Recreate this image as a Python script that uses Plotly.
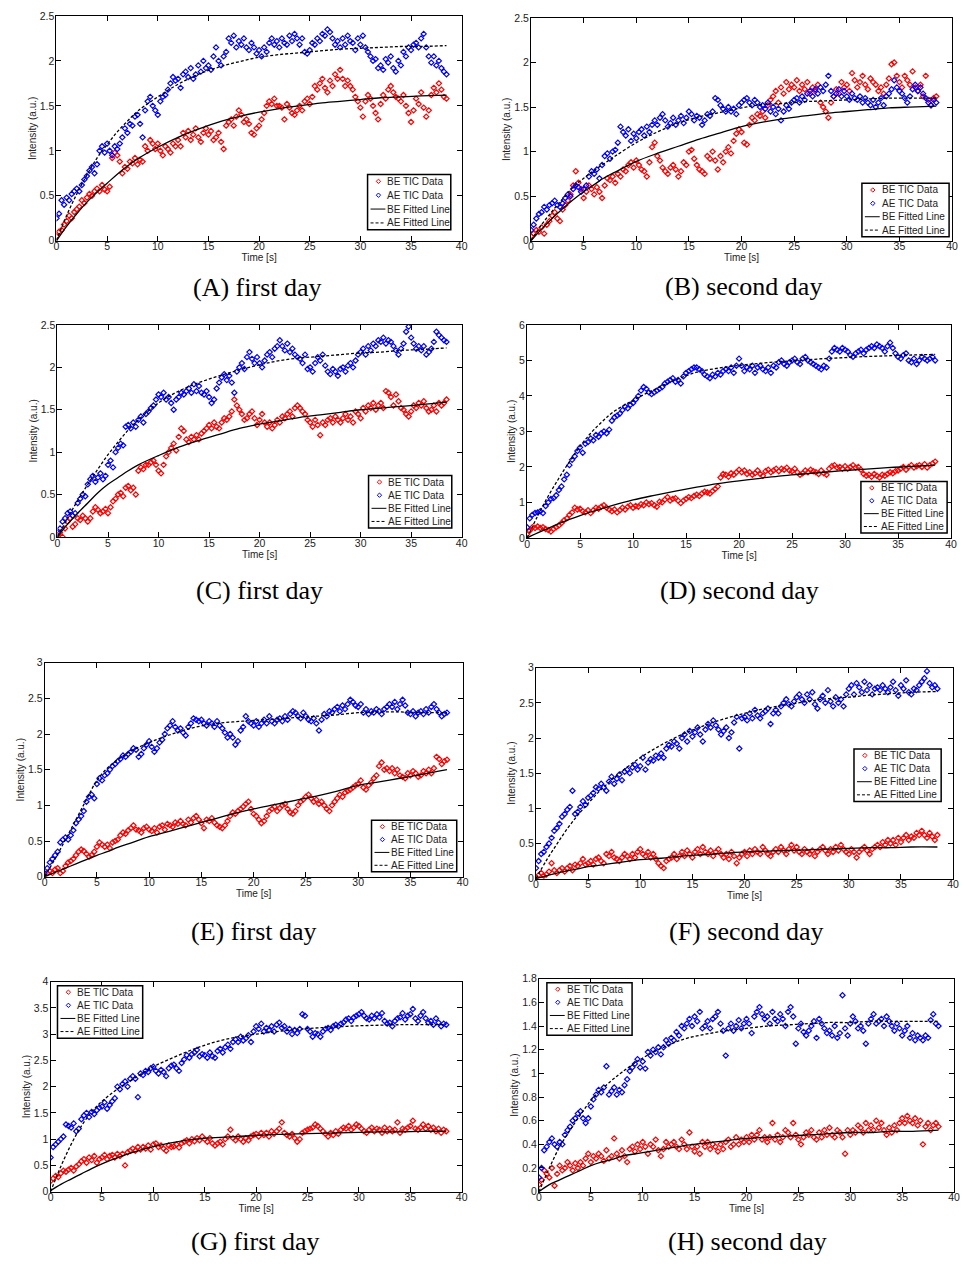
import numpy as np
import plotly.graph_objects as go

W, H = 965, 1267
DT = 0.25  # sampling step of the TIC data [s]
FIT_T = [0, 1, 2, 3, 4, 5, 6, 7, 8, 10, 12, 14, 16, 18, 20, 22, 24, 26, 28, 30, 32, 34, 36, 38.5]
X_TICKS = [0, 5, 10, 15, 20, 25, 30, 35, 40]
LEGEND_LABELS = ["BE TIC Data", "AE TIC Data", "BE Fitted Line", "AE Fitted Line"]

# ---------------- Panel A ----------------
A_BE = [0.05, 0.10, 0.12, 0.18, 0.22, 0.28, 0.25, 0.32, 0.35, 0.38, 0.45, 0.42,
        0.48, 0.52, 0.50, 0.55, 0.58, 0.55, 0.62, 0.57, 0.55, 0.60, 0.92, 0.98,
        0.95, 0.88, 0.75, 0.82, 0.80, 0.88, 0.86, 0.92, 0.85, 0.90, 0.88, 1.05,
        1.00, 1.12, 1.08, 1.02, 1.08, 1.00, 0.95, 1.05, 1.02, 0.98, 1.08, 1.05,
        1.12, 1.05, 1.20, 1.15, 1.22, 1.12, 1.18, 1.25, 1.15, 1.10, 1.20, 1.25,
        1.18, 1.22, 1.12, 1.15, 1.20, 1.10, 1.02, 1.28, 1.32, 1.35, 1.28, 1.38,
        1.45, 1.40, 1.32, 1.35, 1.30, 1.20, 1.18, 1.25, 1.28, 1.35, 1.42, 1.50,
        1.55, 1.52, 1.58, 1.50, 1.50, 1.48, 1.35, 1.52, 1.48, 1.42, 1.40, 1.45,
        1.50, 1.45, 1.55, 1.58, 1.52, 1.60, 1.72, 1.68, 1.75, 1.80, 1.70, 1.65,
        1.78, 1.72, 1.85, 1.80, 1.90, 1.80, 1.72, 1.78, 1.72, 1.68, 1.60, 1.55,
        1.48, 1.38, 1.55, 1.62, 1.58, 1.50, 1.42, 1.35, 1.52, 1.62, 1.58, 1.68,
        1.72, 1.65, 1.60, 1.58, 1.55, 1.62, 1.50, 1.42, 1.32, 1.45, 1.58, 1.52,
        1.65, 1.48, 1.38, 1.45, 1.62, 1.70, 1.65, 1.75, 1.68, 1.60, 1.58]
A_AE = [0.25, 0.30, 0.45, 0.40, 0.48, 0.45, 0.52, 0.55, 0.58, 0.55, 0.62, 0.68,
        0.72, 0.78, 0.82, 0.75, 0.85, 1.00, 1.05, 0.98, 1.08, 1.00, 0.95, 1.05,
        1.02, 1.08, 1.15, 1.25, 1.20, 1.30, 1.28, 1.38, 1.40, 1.30, 1.15, 1.45,
        1.55, 1.60, 1.50, 1.45, 1.40, 1.55, 1.60, 1.62, 1.68, 1.75, 1.82, 1.78,
        1.80, 1.70, 1.85, 1.88, 1.82, 1.92, 1.80, 1.85, 1.95, 1.88, 2.00, 1.92,
        1.95, 1.90, 2.05, 2.15, 2.00, 1.95, 2.05, 2.10, 2.25, 2.20, 2.28, 2.15,
        2.22, 2.18, 2.25, 2.15, 2.12, 2.20, 2.15, 2.08, 2.12, 2.05, 2.15, 2.10,
        2.20, 2.25, 2.18, 2.22, 2.15, 2.25, 2.20, 2.18, 2.28, 2.22, 2.30, 2.25,
        2.18, 2.25, 2.10, 2.08, 2.12, 2.20, 2.18, 2.25, 2.22, 2.30, 2.28, 2.35,
        2.32, 2.25, 2.18, 2.22, 2.15, 2.25, 2.18, 2.28, 2.22, 2.20, 2.12, 2.25,
        2.18, 2.28, 2.15, 2.10, 2.05, 2.00, 2.02, 1.92, 1.95, 1.90, 2.02, 1.98,
        2.05, 1.92, 1.88, 2.00, 1.95, 2.10, 2.05, 2.15, 2.12, 2.18, 2.20, 2.15,
        2.25, 2.30, 2.15, 2.05, 1.98, 2.05, 1.95, 2.00, 1.92, 1.88, 1.85]
A_BE_FIT = [0, 0.16, 0.30, 0.43, 0.54, 0.64, 0.74, 0.83, 0.91, 1.04, 1.15, 1.24,
            1.32, 1.38, 1.43, 1.47, 1.50, 1.53, 1.55, 1.57, 1.59, 1.60, 1.61, 1.62]
A_AE_FIT = [0, 0.28, 0.52, 0.73, 0.92, 1.07, 1.21, 1.33, 1.44, 1.60, 1.74, 1.85,
            1.93, 1.99, 2.04, 2.07, 2.09, 2.11, 2.13, 2.14, 2.15, 2.16, 2.16, 2.17]

# ---------------- Panel B ----------------
B_BE = [0.05, 0.08, 0.12, 0.10, 0.15, 0.08, 0.18, 0.22, 0.28, 0.32, 0.25, 0.22,
        0.35, 0.40, 0.45, 0.52, 0.62, 0.78, 0.65, 0.58, 0.48, 0.55, 0.62, 0.58,
        0.52, 0.60, 0.55, 0.48, 0.62, 0.70, 0.68, 0.72, 0.65, 0.75, 0.72, 0.80,
        0.78, 0.85, 0.88, 0.82, 0.90, 0.85, 0.80, 0.78, 0.72, 0.88, 1.05, 1.10,
        0.95, 0.90, 0.82, 0.78, 0.75, 0.82, 0.85, 0.80, 0.72, 0.78, 0.88, 0.85,
        1.00, 1.02, 0.92, 0.85, 0.80, 0.78, 0.75, 0.95, 0.92, 1.00, 0.90, 0.80,
        0.95, 0.88, 1.00, 1.05, 0.98, 1.12, 1.20, 1.25, 1.22, 1.10, 1.08, 1.30,
        1.38, 1.35, 1.42, 1.40, 1.45, 1.38, 1.52, 1.58, 1.62, 1.68, 1.55, 1.72,
        1.65, 1.78, 1.70, 1.75, 1.72, 1.80, 1.68, 1.75, 1.70, 1.78, 1.65, 1.72,
        1.68, 1.75, 1.55, 1.50, 1.45, 1.38, 1.55, 1.62, 1.70, 1.65, 1.78, 1.72,
        1.75, 1.68, 1.88, 1.80, 1.72, 1.78, 1.85, 1.75, 1.70, 1.82, 1.78, 1.75,
        1.68, 1.72, 1.65, 1.75, 1.82, 1.98, 2.00, 1.85, 1.78, 1.72, 1.85, 1.80,
        1.75, 1.90, 1.72, 1.68, 1.75, 1.62, 1.85, 1.58, 1.52, 1.60, 1.62]
B_AE = [0.12, 0.18, 0.25, 0.30, 0.32, 0.38, 0.35, 0.40, 0.42, 0.45, 0.40, 0.38,
        0.42, 0.48, 0.52, 0.50, 0.58, 0.62, 0.60, 0.55, 0.58, 0.62, 0.72, 0.78,
        0.75, 0.80, 0.70, 0.85, 0.95, 0.98, 0.92, 1.00, 1.02, 1.10, 1.28, 1.22,
        1.18, 1.25, 1.12, 1.20, 1.15, 1.22, 1.25, 1.18, 1.28, 1.22, 1.30, 1.35,
        1.30, 1.38, 1.42, 1.35, 1.28, 1.32, 1.38, 1.30, 1.35, 1.40, 1.32, 1.38,
        1.45, 1.42, 1.35, 1.40, 1.38, 1.30, 1.35, 1.42, 1.40, 1.45, 1.60, 1.58,
        1.52, 1.48, 1.45, 1.50, 1.45, 1.48, 1.42, 1.52, 1.55, 1.58, 1.60, 1.55,
        1.52, 1.58, 1.55, 1.50, 1.52, 1.48, 1.55, 1.45, 1.50, 1.42, 1.48, 1.35,
        1.45, 1.52, 1.48, 1.55, 1.58, 1.60, 1.55, 1.62, 1.58, 1.65, 1.68, 1.62,
        1.70, 1.65, 1.72, 1.68, 1.75, 1.85, 1.68, 1.62, 1.65, 1.70, 1.62, 1.68,
        1.62, 1.58, 1.65, 1.60, 1.58, 1.62, 1.55, 1.60, 1.55, 1.52, 1.58, 1.50,
        1.55, 1.60, 1.52, 1.62, 1.65, 1.70, 1.80, 1.72, 1.68, 1.65, 1.60, 1.55,
        1.62, 1.70, 1.75, 1.68, 1.72, 1.65, 1.60, 1.55, 1.52, 1.58, 1.55]
B_BE_FIT = [0, 0.13, 0.25, 0.36, 0.46, 0.55, 0.63, 0.71, 0.77, 0.89, 0.98, 1.06,
            1.14, 1.21, 1.28, 1.33, 1.37, 1.40, 1.43, 1.45, 1.47, 1.49, 1.50, 1.51]
B_AE_FIT = [0, 0.18, 0.33, 0.47, 0.60, 0.70, 0.79, 0.87, 0.95, 1.10, 1.22, 1.32,
            1.39, 1.44, 1.49, 1.53, 1.54, 1.56, 1.57, 1.58, 1.59, 1.60, 1.60, 1.60]

# ---------------- Panel C ----------------
C_BE = [0.02, 0.05, 0.00, 0.10, 0.18, 0.22, 0.12, 0.15, 0.22, 0.20, 0.25, 0.22,
        0.18, 0.22, 0.30, 0.35, 0.32, 0.28, 0.30, 0.33, 0.28, 0.35, 0.42, 0.45,
        0.50, 0.52, 0.48, 0.58, 0.60, 0.55, 0.58, 0.50, 0.78, 0.82, 0.80, 0.85,
        0.85, 0.88, 0.90, 0.85, 0.78, 0.75, 0.85, 0.95, 1.00, 1.05, 1.10, 1.02,
        1.18, 1.28, 1.25, 1.15, 1.12, 1.18, 1.15, 1.20, 1.15, 1.22, 1.25, 1.28,
        1.32, 1.28, 1.35, 1.30, 1.28, 1.35, 1.40, 1.38, 1.42, 1.48, 1.62, 1.55,
        1.50, 1.45, 1.38, 1.40, 1.45, 1.48, 1.40, 1.32, 1.38, 1.45, 1.35, 1.30,
        1.35, 1.28, 1.32, 1.38, 1.35, 1.42, 1.40, 1.45, 1.48, 1.42, 1.52, 1.55,
        1.52, 1.48, 1.45, 1.38, 1.35, 1.30, 1.38, 1.32, 1.20, 1.35, 1.32, 1.38,
        1.40, 1.35, 1.42, 1.38, 1.35, 1.40, 1.45, 1.38, 1.42, 1.35, 1.48, 1.45,
        1.40, 1.52, 1.48, 1.55, 1.52, 1.58, 1.50, 1.55, 1.58, 1.52, 1.72, 1.70,
        1.65, 1.55, 1.68, 1.60, 1.52, 1.50, 1.45, 1.42, 1.48, 1.55, 1.52, 1.58,
        1.55, 1.60, 1.52, 1.48, 1.50, 1.55, 1.48, 1.58, 1.55, 1.58, 1.62]
C_AE = [0.05, 0.10, 0.18, 0.22, 0.28, 0.30, 0.25, 0.28, 0.40, 0.45, 0.50, 0.48,
        0.62, 0.68, 0.72, 0.65, 0.70, 0.75, 0.68, 0.72, 0.85, 0.90, 0.82, 1.00,
        1.05, 1.10, 1.08, 1.30, 1.32, 1.28, 1.35, 1.30, 1.38, 1.42, 1.35, 1.45,
        1.48, 1.52, 1.55, 1.62, 1.68, 1.65, 1.70, 1.62, 1.65, 1.58, 1.50, 1.62,
        1.65, 1.70, 1.68, 1.72, 1.75, 1.70, 1.80, 1.72, 1.78, 1.70, 1.68, 1.72,
        1.65, 1.58, 1.62, 1.75, 1.82, 1.88, 1.92, 1.85, 1.90, 1.82, 1.70, 1.95,
        2.00, 2.05, 1.98, 2.12, 2.18, 2.10, 2.05, 2.12, 2.05, 2.00, 2.08, 2.15,
        2.18, 2.12, 2.22, 2.25, 2.32, 2.25, 2.20, 2.28, 2.18, 2.22, 2.15, 2.12,
        2.10, 2.05, 2.15, 1.98, 2.00, 1.95, 2.05, 2.12, 2.08, 2.15, 2.02, 1.95,
        1.92, 1.98, 1.95, 1.90, 1.98, 2.00, 1.95, 2.02, 2.05, 2.00, 2.08, 2.15,
        2.18, 2.22, 2.15, 2.25, 2.20, 2.28, 2.25, 2.32, 2.30, 2.35, 2.28, 2.32,
        2.30, 2.25, 2.20, 2.15, 2.22, 2.28, 2.42, 2.48, 2.35, 2.28, 2.22, 2.25,
        2.20, 2.25, 2.15, 2.18, 2.22, 2.30, 2.42, 2.38, 2.35, 2.32, 2.30]
C_BE_FIT = [0, 0.15, 0.28, 0.40, 0.52, 0.62, 0.70, 0.78, 0.85, 0.96, 1.06, 1.14,
            1.21, 1.28, 1.33, 1.37, 1.41, 1.44, 1.47, 1.50, 1.52, 1.54, 1.56, 1.59]
C_AE_FIT = [0, 0.22, 0.43, 0.62, 0.80, 0.97, 1.12, 1.26, 1.38, 1.58, 1.72, 1.82,
            1.90, 1.97, 2.03, 2.08, 2.11, 2.13, 2.15, 2.17, 2.18, 2.20, 2.21, 2.23]

# ---------------- Panel D ----------------
D_BE = [0.10, 0.20, 0.30, 0.28, 0.32, 0.28, 0.30, 0.25, 0.22, 0.18, 0.25, 0.30,
        0.35, 0.42, 0.50, 0.55, 0.65, 0.72, 0.85, 0.80, 0.82, 0.75, 0.72, 0.78,
        0.70, 0.78, 0.85, 0.82, 0.88, 0.92, 0.85, 0.80, 0.75, 0.80, 0.72, 0.78,
        0.85, 0.80, 0.88, 0.92, 0.85, 0.90, 0.88, 0.95, 0.92, 1.00, 0.95, 0.98,
        0.92, 0.88, 1.02, 1.00, 1.08, 1.15, 1.05, 1.10, 1.12, 1.05, 0.98, 1.05,
        1.10, 1.15, 1.12, 1.18, 1.22, 1.18, 1.25, 1.30, 1.28, 1.25, 1.32, 1.38,
        1.45, 1.70, 1.80, 1.78, 1.72, 1.82, 1.78, 1.85, 1.92, 1.85, 1.90, 1.80,
        1.85, 1.78, 1.82, 1.90, 1.80, 1.75, 1.88, 1.92, 1.85, 1.90, 1.95, 1.88,
        1.95, 1.92, 1.98, 1.90, 1.88, 1.95, 1.85, 1.78, 1.82, 1.90, 1.85, 1.92,
        1.88, 1.85, 1.80, 1.90, 1.82, 1.78, 1.95, 2.02, 2.05, 1.98, 2.00, 1.95,
        2.02, 1.95, 2.00, 2.05, 1.98, 2.00, 1.92, 1.80, 1.75, 1.78, 1.72, 1.80,
        1.75, 1.70, 1.78, 1.75, 1.80, 1.85, 1.82, 1.88, 1.90, 1.95, 2.00, 1.92,
        2.00, 2.05, 1.98, 2.02, 2.05, 2.00, 2.08, 1.98, 2.05, 2.10, 2.15]
D_AE = [0.30, 0.55, 0.65, 0.70, 0.72, 0.75, 0.70, 0.90, 1.00, 1.10, 1.12, 1.20,
        1.35, 1.45, 1.65, 1.78, 2.05, 2.20, 2.30, 2.45, 2.55, 2.40, 2.65, 2.70,
        2.80, 2.75, 2.90, 2.85, 2.95, 3.00, 2.95, 3.05, 3.30, 3.40, 3.45, 3.50,
        3.60, 3.70, 3.65, 3.75, 3.80, 3.90, 4.00, 4.15, 4.25, 4.20, 4.10, 4.05,
        4.10, 4.15, 4.20, 4.25, 4.35, 4.40, 4.45, 4.50, 4.40, 4.45, 4.35, 4.55,
        4.65, 4.70, 4.75, 4.80, 4.80, 4.75, 4.70, 4.60, 4.55, 4.50, 4.60, 4.55,
        4.65, 4.60, 4.70, 4.75, 4.70, 4.80, 4.65, 4.85, 5.05, 4.85, 4.70, 4.80,
        4.75, 4.85, 4.65, 4.80, 4.85, 4.75, 4.70, 4.80, 4.65, 4.85, 4.80, 4.95,
        5.00, 4.90, 4.85, 4.95, 5.00, 5.05, 4.95, 4.90, 5.05, 5.10, 5.00, 4.95,
        4.90, 4.85, 4.80, 4.75, 4.85, 4.80, 5.05, 5.25, 5.35, 5.30, 5.25, 5.35,
        5.30, 5.25, 5.15, 5.10, 5.20, 5.25, 5.30, 5.20, 5.30, 5.35, 5.40, 5.35,
        5.45, 5.40, 5.35, 5.25, 5.40, 5.50, 5.35, 5.20, 5.10, 5.05, 5.15, 5.20,
        5.00, 4.95, 5.05, 4.90, 5.00, 5.10, 5.05, 5.00, 5.05, 5.10, 5.00]
D_BE_FIT = [0, 0.14, 0.27, 0.40, 0.52, 0.63, 0.73, 0.82, 0.91, 1.07, 1.20, 1.32,
            1.43, 1.53, 1.61, 1.68, 1.75, 1.80, 1.85, 1.90, 1.94, 1.98, 2.01, 2.05]
D_AE_FIT = [0, 0.62, 1.18, 1.68, 2.15, 2.58, 2.95, 3.25, 3.52, 3.88, 4.18, 4.45,
            4.67, 4.78, 4.86, 4.92, 4.97, 5.01, 5.05, 5.08, 5.11, 5.13, 5.15, 5.17]

# ---------------- Panel E ----------------
E_BE = [0.02, 0.05, 0.08, 0.05, 0.10, 0.12, 0.05, 0.08, 0.15, 0.20, 0.22, 0.25,
        0.30, 0.35, 0.38, 0.36, 0.32, 0.28, 0.30, 0.35, 0.42, 0.48, 0.45, 0.42,
        0.45, 0.40, 0.48, 0.50, 0.52, 0.58, 0.62, 0.60, 0.65, 0.68, 0.72, 0.66,
        0.65, 0.62, 0.68, 0.70, 0.66, 0.64, 0.68, 0.62, 0.70, 0.72, 0.66, 0.74,
        0.72, 0.70, 0.76, 0.74, 0.78, 0.74, 0.72, 0.80, 0.76, 0.82, 0.85, 0.80,
        0.75, 0.68, 0.80, 0.78, 0.82, 0.76, 0.72, 0.70, 0.68, 0.72, 0.78, 0.85,
        0.90, 0.88, 0.92, 0.95, 0.98, 1.02, 1.05, 0.95, 0.88, 0.85, 0.80, 0.75,
        0.78, 0.85, 0.92, 0.95, 0.98, 0.92, 0.96, 1.00, 1.02, 0.95, 0.90, 0.88,
        0.92, 1.00, 1.05, 1.08, 1.12, 1.15, 1.10, 1.05, 1.08, 1.02, 1.05, 1.00,
        0.95, 0.92, 1.00, 1.05, 1.10, 1.15, 1.12, 1.18, 1.20, 1.22, 1.25, 1.28,
        1.30, 1.35, 1.25, 1.22, 1.28, 1.32, 1.38, 1.42, 1.55, 1.60, 1.50, 1.52,
        1.48, 1.52, 1.45, 1.50, 1.42, 1.40, 1.38, 1.45, 1.42, 1.48, 1.45, 1.40,
        1.42, 1.48, 1.45, 1.50, 1.45, 1.52, 1.68, 1.65, 1.58, 1.62, 1.64]
E_AE = [0.05, 0.12, 0.20, 0.25, 0.30, 0.35, 0.48, 0.52, 0.55, 0.52, 0.58, 0.65,
        0.75, 0.80, 0.85, 0.92, 1.05, 1.12, 1.15, 1.10, 1.30, 1.38, 1.35, 1.42,
        1.45, 1.50, 1.55, 1.58, 1.62, 1.65, 1.70, 1.68, 1.72, 1.75, 1.80, 1.78,
        1.68, 1.72, 1.80, 1.85, 1.90, 1.82, 1.75, 1.80, 1.88, 1.92, 2.00, 2.08,
        2.12, 2.18, 2.10, 2.05, 2.08, 2.02, 1.98, 2.10, 2.15, 2.22, 2.20, 2.18,
        2.20, 2.15, 2.12, 2.18, 2.15, 2.10, 2.18, 2.12, 2.08, 2.02, 1.95, 2.00,
        1.95, 1.85, 1.90, 2.05, 2.10, 2.25, 2.18, 2.15, 2.12, 2.18, 2.10, 2.15,
        2.20, 2.15, 2.25, 2.18, 2.15, 2.20, 2.22, 2.18, 2.25, 2.20, 2.28, 2.32,
        2.30, 2.25, 2.22, 2.30, 2.25, 2.20, 2.18, 2.22, 2.15, 2.05, 2.20, 2.28,
        2.25, 2.32, 2.30, 2.35, 2.38, 2.32, 2.40, 2.35, 2.42, 2.48, 2.45, 2.40,
        2.38, 2.42, 2.30, 2.35, 2.28, 2.32, 2.30, 2.35, 2.32, 2.28, 2.35, 2.38,
        2.42, 2.38, 2.45, 2.35, 2.42, 2.48, 2.40, 2.30, 2.28, 2.32, 2.25, 2.30,
        2.32, 2.28, 2.35, 2.30, 2.38, 2.42, 2.35, 2.30, 2.25, 2.28, 2.30]
E_BE_FIT = [0, 0.06, 0.12, 0.18, 0.24, 0.30, 0.35, 0.41, 0.46, 0.56, 0.64, 0.72,
            0.80, 0.88, 0.95, 1.01, 1.07, 1.13, 1.20, 1.28, 1.33, 1.38, 1.43, 1.50]
E_AE_FIT = [0, 0.25, 0.52, 0.80, 1.08, 1.35, 1.52, 1.64, 1.74, 1.88, 1.99, 2.08,
            2.14, 2.17, 2.19, 2.21, 2.23, 2.25, 2.27, 2.30, 2.31, 2.31, 2.30, 2.30]

# ---------------- Panel F ----------------
F_BE = [0.02, 0.05, 0.08, 0.04, 0.06, 0.10, 0.22, 0.12, 0.08, 0.12, 0.15, 0.10,
        0.15, 0.18, 0.12, 0.20, 0.18, 0.22, 0.28, 0.20, 0.22, 0.25, 0.20, 0.28,
        0.30, 0.25, 0.22, 0.35, 0.32, 0.38, 0.30, 0.28, 0.25, 0.30, 0.35, 0.32,
        0.28, 0.35, 0.30, 0.38, 0.42, 0.35, 0.32, 0.38, 0.30, 0.35, 0.28, 0.22,
        0.18, 0.15, 0.25, 0.28, 0.30, 0.35, 0.28, 0.32, 0.38, 0.32, 0.40, 0.35,
        0.30, 0.38, 0.42, 0.35, 0.45, 0.38, 0.35, 0.40, 0.32, 0.38, 0.42, 0.35,
        0.30, 0.35, 0.28, 0.38, 0.32, 0.22, 0.30, 0.35, 0.38, 0.32, 0.40, 0.35,
        0.42, 0.38, 0.35, 0.45, 0.40, 0.35, 0.32, 0.38, 0.42, 0.38, 0.45, 0.40,
        0.35, 0.42, 0.48, 0.40, 0.45, 0.38, 0.35, 0.42, 0.38, 0.35, 0.40, 0.32,
        0.38, 0.42, 0.45, 0.40, 0.35, 0.42, 0.38, 0.45, 0.40, 0.48, 0.42, 0.38,
        0.35, 0.42, 0.38, 0.30, 0.38, 0.42, 0.45, 0.40, 0.35, 0.42, 0.45, 0.48,
        0.45, 0.52, 0.48, 0.55, 0.50, 0.55, 0.48, 0.58, 0.52, 0.58, 0.62, 0.55,
        0.60, 0.58, 0.65, 0.62, 0.68, 0.62, 0.58, 0.65, 0.60, 0.55, 0.62]
F_AE = [0.15, 0.25, 0.35, 0.38, 0.45, 0.50, 0.58, 0.68, 0.72, 0.78, 0.88, 0.92,
        0.98, 1.02, 1.25, 0.92, 0.95, 1.02, 1.10, 1.05, 1.15, 1.18, 1.22, 1.30,
        1.28, 1.35, 1.30, 1.25, 1.38, 1.45, 1.35, 1.42, 1.48, 1.40, 1.52, 1.55,
        1.50, 1.58, 1.62, 1.55, 1.60, 1.72, 1.55, 1.65, 1.70, 1.68, 1.75, 1.72,
        1.78, 1.72, 1.85, 1.90, 1.88, 1.95, 1.92, 1.85, 2.00, 2.05, 1.95, 2.10,
        2.02, 2.08, 2.15, 2.05, 1.95, 2.12, 2.20, 2.15, 2.25, 2.18, 2.12, 2.05,
        2.10, 2.15, 2.00, 2.08, 2.22, 2.30, 1.85, 2.28, 2.30, 2.25, 2.35, 2.28,
        2.40, 2.32, 2.28, 2.35, 2.38, 2.42, 2.20, 2.35, 2.40, 2.35, 2.45, 2.50,
        2.55, 2.48, 2.45, 2.52, 2.58, 2.62, 2.55, 2.50, 2.62, 2.55, 2.65, 2.48,
        2.42, 2.55, 2.60, 2.50, 2.68, 2.52, 2.45, 2.58, 2.50, 2.55, 2.45, 2.62,
        2.70, 2.75, 2.62, 2.78, 2.72, 2.65, 2.80, 2.68, 2.75, 2.62, 2.70, 2.72,
        2.68, 2.75, 2.70, 2.65, 2.72, 2.80, 2.68, 2.60, 2.75, 2.70, 2.82, 2.65,
        2.62, 2.70, 2.68, 2.75, 2.80, 2.85, 2.95, 2.78, 2.72, 2.75, 2.70]
F_BE_FIT = [0, 0.04, 0.08, 0.11, 0.14, 0.17, 0.19, 0.21, 0.23, 0.27, 0.29, 0.32,
            0.34, 0.36, 0.38, 0.39, 0.40, 0.41, 0.42, 0.43, 0.44, 0.44, 0.45, 0.45]
F_AE_FIT = [0, 0.26, 0.49, 0.71, 0.90, 1.07, 1.23, 1.37, 1.50, 1.72, 1.90, 2.05,
            2.17, 2.27, 2.35, 2.42, 2.47, 2.52, 2.56, 2.58, 2.61, 2.63, 2.65, 2.66]

# ---------------- Panel G ----------------
G_BE = [0.20, 0.25, 0.30, 0.28, 0.35, 0.40, 0.38, 0.42, 0.45, 0.40, 0.48, 0.52,
        0.58, 0.62, 0.55, 0.65, 0.60, 0.68, 0.55, 0.62, 0.65, 0.70, 0.62, 0.68,
        0.70, 0.65, 0.72, 0.68, 0.72, 0.50, 0.75, 0.78, 0.82, 0.78, 0.85, 0.80,
        0.85, 0.82, 0.88, 0.80, 0.90, 0.92, 0.85, 0.88, 0.82, 0.78, 0.88, 0.85,
        0.86, 0.90, 0.84, 0.92, 0.95, 0.98, 0.92, 1.00, 0.96, 1.02, 0.98, 1.05,
        1.00, 0.95, 1.02, 0.92, 0.88, 0.92, 0.95, 0.90, 1.00, 1.05, 1.18, 1.02,
        0.98, 1.05, 1.00, 0.95, 1.02, 0.98, 1.05, 1.08, 1.10, 1.05, 1.12, 1.08,
        1.12, 1.05, 1.15, 1.10, 1.15, 1.20, 1.32, 1.12, 1.08, 1.05, 1.10, 1.02,
        0.95, 1.00, 1.12, 1.15, 1.18, 1.20, 1.22, 1.28, 1.25, 1.20, 1.15, 1.10,
        1.05, 1.12, 1.08, 1.15, 1.10, 1.18, 1.22, 1.20, 1.25, 1.18, 1.22, 1.28,
        1.25, 1.20, 1.15, 1.12, 1.18, 1.22, 1.15, 1.20, 1.18, 1.12, 1.22, 1.15,
        1.20, 1.15, 1.18, 1.32, 1.12, 1.20, 1.18, 1.22, 1.25, 1.35, 1.20, 1.18,
        1.22, 1.28, 1.20, 1.25, 1.18, 1.22, 1.15, 1.20, 1.12, 1.18, 1.15]
G_AE = [0.65, 0.85, 0.90, 0.95, 1.00, 1.05, 1.28, 1.25, 1.22, 1.30, 1.15, 1.20,
        1.38, 1.45, 1.50, 1.42, 1.52, 1.48, 1.55, 1.60, 1.62, 1.70, 1.58, 1.65,
        1.72, 1.78, 2.00, 1.95, 2.05, 2.10, 2.00, 2.15, 2.20, 2.15, 1.80, 2.25,
        2.22, 2.30, 2.28, 2.35, 2.38, 2.30, 2.25, 2.32, 2.28, 2.20, 2.35, 2.40,
        2.42, 2.35, 2.30, 2.45, 2.52, 2.60, 2.55, 2.62, 2.65, 2.70, 2.58, 2.62,
        2.60, 2.55, 2.65, 2.58, 2.55, 2.68, 2.72, 2.65, 2.75, 2.80, 2.72, 2.85,
        2.90, 2.85, 2.95, 2.88, 2.92, 2.98, 2.85, 3.05, 3.15, 3.10, 3.20, 3.05,
        3.12, 3.08, 3.15, 3.05, 3.18, 3.22, 3.12, 3.15, 3.05, 3.10, 3.00, 3.08,
        3.02, 3.10, 3.38, 3.35, 3.10, 3.05, 2.95, 3.02, 3.00, 2.95, 3.05, 3.10,
        3.12, 3.08, 3.15, 3.18, 3.15, 3.20, 3.22, 3.28, 3.30, 3.25, 3.32, 3.35,
        3.38, 3.42, 3.35, 3.30, 3.28, 3.35, 3.30, 3.38, 3.32, 3.40, 3.25, 3.20,
        3.22, 3.15, 3.25, 3.30, 3.32, 3.40, 3.28, 3.35, 3.38, 3.48, 3.30, 3.25,
        3.35, 3.42, 3.30, 3.22, 3.25, 3.18, 3.30, 3.22, 3.15, 3.20, 3.18]
G_BE_FIT = [0.02, 0.14, 0.24, 0.34, 0.44, 0.53, 0.61, 0.68, 0.75, 0.86, 0.94, 1.00,
            1.03, 1.05, 1.07, 1.09, 1.10, 1.11, 1.12, 1.13, 1.14, 1.14, 1.15, 1.15]
G_AE_FIT = [0, 0.48, 0.90, 1.25, 1.52, 1.72, 1.88, 2.02, 2.14, 2.38, 2.56, 2.72,
            2.85, 2.94, 3.00, 3.05, 3.09, 3.12, 3.14, 3.16, 3.17, 3.18, 3.18, 3.18]

# ---------------- Panel H ----------------
H_BE = [0.06, 0.10, 0.18, 0.15, 0.12, 0.20, 0.05, 0.15, 0.22, 0.18, 0.20, 0.25,
        0.22, 0.18, 0.24, 0.20, 0.25, 0.22, 0.28, 0.32, 0.25, 0.30, 0.28, 0.32,
        0.30, 0.26, 0.35, 0.28, 0.30, 0.45, 0.32, 0.28, 0.35, 0.30, 0.25, 0.36,
        0.38, 0.34, 0.40, 0.36, 0.42, 0.38, 0.32, 0.40, 0.38, 0.44, 0.35, 0.30,
        0.36, 0.42, 0.38, 0.40, 0.42, 0.38, 0.36, 0.44, 0.40, 0.36, 0.50, 0.38,
        0.34, 0.38, 0.32, 0.42, 0.38, 0.42, 0.36, 0.40, 0.38, 0.34, 0.40, 0.36,
        0.42, 0.44, 0.38, 0.40, 0.46, 0.40, 0.44, 0.42, 0.46, 0.42, 0.48, 0.44,
        0.48, 0.52, 0.44, 0.46, 0.42, 0.46, 0.58, 0.44, 0.48, 0.42, 0.46, 0.52,
        0.50, 0.46, 0.58, 0.48, 0.44, 0.40, 0.46, 0.50, 0.48, 0.52, 0.46, 0.44,
        0.50, 0.46, 0.52, 0.48, 0.54, 0.48, 0.46, 0.52, 0.50, 0.46, 0.32, 0.52,
        0.48, 0.52, 0.50, 0.56, 0.54, 0.50, 0.58, 0.52, 0.56, 0.52, 0.60, 0.54,
        0.58, 0.52, 0.48, 0.54, 0.50, 0.56, 0.52, 0.58, 0.62, 0.58, 0.64, 0.60,
        0.58, 0.62, 0.56, 0.60, 0.40, 0.55, 0.58, 0.52, 0.56, 0.58, 0.55]
H_AE = [0.12, 0.20, 0.35, 0.38, 0.42, 0.45, 0.40, 0.38, 0.42, 0.40, 0.48, 0.52,
        0.55, 0.60, 0.62, 0.66, 0.68, 0.62, 0.58, 0.62, 0.72, 0.78, 0.82, 0.86,
        0.84, 0.88, 1.06, 0.82, 0.85, 0.88, 0.82, 0.86, 0.84, 0.90, 0.95, 1.02,
        1.05, 1.08, 1.12, 1.05, 1.10, 1.04, 1.18, 1.15, 1.20, 1.18, 1.22, 1.16,
        1.22, 1.28, 1.25, 1.30, 1.28, 1.35, 1.32, 1.40, 1.38, 1.42, 1.46, 1.40,
        1.48, 1.44, 1.52, 1.38, 1.40, 1.44, 1.38, 1.46, 1.48, 1.52, 1.42, 1.36,
        1.15, 1.38, 1.42, 1.36, 1.40, 1.45, 1.38, 1.42, 1.46, 1.42, 1.34, 1.48,
        1.52, 1.56, 1.50, 1.46, 1.48, 1.42, 1.52, 1.46, 1.44, 1.50, 1.46, 1.40,
        1.52, 1.56, 1.48, 1.25, 1.38, 1.42, 1.35, 1.32, 1.36, 1.40, 1.44, 1.30,
        1.46, 1.42, 1.38, 1.34, 1.36, 1.32, 1.40, 1.30, 1.34, 1.66, 1.38, 1.32,
        1.42, 1.48, 1.44, 1.38, 1.40, 1.36, 1.25, 1.42, 1.46, 1.50, 1.42, 1.44,
        1.46, 1.40, 1.48, 1.44, 1.40, 1.36, 1.42, 1.38, 1.32, 1.36, 1.40, 1.30,
        1.34, 1.28, 1.32, 1.30, 1.28, 1.32, 1.30, 1.45, 1.50, 1.42, 1.40]
H_BE_FIT = [0, 0.06, 0.10, 0.14, 0.18, 0.22, 0.25, 0.27, 0.30, 0.33, 0.36, 0.39,
            0.41, 0.43, 0.45, 0.46, 0.47, 0.48, 0.49, 0.50, 0.50, 0.51, 0.51, 0.52]
H_AE_FIT = [0, 0.20, 0.38, 0.52, 0.65, 0.77, 0.86, 0.94, 1.01, 1.13, 1.22, 1.29,
            1.33, 1.36, 1.38, 1.40, 1.41, 1.42, 1.43, 1.43, 1.44, 1.44, 1.44, 1.44]

# ---------------- layout description (pixel boxes) ----------------
PANELS = [
    dict(caption="(A) first day", be=A_BE, ae=A_AE, bef=A_BE_FIT, aef=A_AE_FIT,
         ymax=2.5, dtick=0.5, box=(54, 10, 463, 237), leg=(368, 170, 452, 226), cap=(257, 284)),
    dict(caption="(B) second day", be=B_BE, ae=B_AE, bef=B_BE_FIT, aef=B_AE_FIT,
         ymax=2.5, dtick=0.5, box=(533, 12, 958, 237), leg=(867, 179, 955, 233), cap=(747, 283)),
    dict(caption="(C) first day", be=C_BE, ae=C_AE, bef=C_BE_FIT, aef=C_AE_FIT,
         ymax=2.5, dtick=0.5, box=(55, 322, 463, 536), leg=(369, 474, 453, 527), cap=(259, 590)),
    dict(caption="(D) second day", be=D_BE, ae=D_AE, bef=D_BE_FIT, aef=D_AE_FIT,
         ymax=6, dtick=1, box=(529, 322, 957, 537), leg=(866, 480, 953, 532), cap=(743, 590)),
    dict(caption="(E) first day", be=E_BE, ae=E_AE, bef=E_BE_FIT, aef=E_AE_FIT,
         ymax=3, dtick=0.5, box=(42, 663, 464, 879), leg=(372, 822, 458, 874), cap=(253, 934)),
    dict(caption="(F) second day", be=F_BE, ae=F_AE, bef=F_BE_FIT, aef=F_AE_FIT,
         ymax=3, dtick=0.5, box=(538, 668, 959, 881), leg=(859, 750, 947, 803), cap=(751, 934)),
    dict(caption="(G) first day", be=G_BE, ae=G_AE, bef=G_BE_FIT, aef=G_AE_FIT,
         ymax=4, dtick=0.5, box=(48, 985, 463, 1197), leg=(55, 989, 141, 1042), cap=(255, 1247)),
    dict(caption="(H) second day", be=H_BE, ae=H_AE, bef=H_BE_FIT, aef=H_AE_FIT,
         ymax=1.8, dtick=0.2, box=(541, 982, 960, 1197), leg=(549, 986, 635, 1039), cap=(752, 1247)),
]

RED = "rgb(255,0,0)"
BLUE = "rgb(0,0,255)"
SANS = "Liberation Sans, Arial, sans-serif"
SERIF = "Liberation Serif, Times New Roman, serif"


def px(x):
    return x / W


def py(y):
    return 1 - y / H


fig = go.Figure()
layout = {}
shapes = []
annotations = []

for i, p in enumerate(PANELS):
    n = i + 1
    sfx = "" if n == 1 else str(n)
    xa, ya = "x" + sfx, "y" + sfx
    t = np.arange(len(p["be"])) * DT

    fig.add_trace(go.Scatter(
        x=t, y=p["be"], mode="markers", name=LEGEND_LABELS[0], showlegend=False,
        marker=dict(symbol="diamond-open", size=4, color=RED, line=dict(width=1.2, color=RED)),
        xaxis=xa, yaxis=ya))
    fig.add_trace(go.Scatter(
        x=t, y=p["ae"], mode="markers", name=LEGEND_LABELS[1], showlegend=False,
        marker=dict(symbol="diamond-open", size=4, color=BLUE, line=dict(width=1.2, color=BLUE)),
        xaxis=xa, yaxis=ya))
    fig.add_trace(go.Scatter(
        x=FIT_T, y=p["bef"], mode="lines", name=LEGEND_LABELS[2], showlegend=False,
        line=dict(color="black", width=1.3, shape="spline"), xaxis=xa, yaxis=ya))
    fig.add_trace(go.Scatter(
        x=FIT_T, y=p["aef"], mode="lines", name=LEGEND_LABELS[3], showlegend=False,
        line=dict(color="black", width=1.3, dash="3px,2px", shape="spline"), xaxis=xa, yaxis=ya))

    x0, y0, x1, y1 = p["box"]
    common = dict(showline=True, linecolor="black", linewidth=1, mirror="ticks",
                  ticks="inside", ticklen=5, tickcolor="black", tickwidth=1,
                  showgrid=False, zeroline=False,
                  tickfont=dict(family=SANS, size=10.5, color="#222"))
    layout["xaxis" + sfx] = dict(
        common, domain=[px(x0), px(x1)], anchor=ya, range=[0, 40],
        tickvals=X_TICKS, ticktext=[str(v) for v in X_TICKS], ticklabelstandoff=-4,
        title=dict(text="Time [s]", font=dict(family=SANS, size=10, color="#222"), standoff=0))
    yt = list(np.round(np.arange(0, p["ymax"] + 1e-9, p["dtick"]), 2))
    layout["yaxis" + sfx] = dict(
        common, domain=[py(y1), py(y0)], anchor=xa, range=[0, p["ymax"]],
        tickvals=yt, ticktext=[("%g" % v) for v in yt], ticklabelstandoff=-1,
        title=dict(text="Intensity (a.u.)", font=dict(family=SANS, size=10, color="#222"), standoff=1))

    # caption
    cx, cy = p["cap"]
    annotations.append(dict(text=p["caption"], x=px(cx), y=py(cy), xref="paper", yref="paper",
                            xanchor="center", yanchor="middle", showarrow=False,
                            font=dict(family=SERIF, size=26, color="black")))

    # legend box (MATLAB style)
    lx0, ly0, lx1, ly1 = p["leg"]
    shapes.append(dict(type="rect", xref="paper", yref="paper",
                       x0=px(lx0), x1=px(lx1), y0=py(ly1), y1=py(ly0),
                       line=dict(color="black", width=1.5), fillcolor="white", layer="above"))
    rh = (ly1 - ly0) / 4.0
    for k, lab in enumerate(LEGEND_LABELS):
        cyk = ly0 + (k + 0.5) * rh
        if k < 2:
            col = RED if k == 0 else BLUE
            mx, r = lx0 + 11, 2.2
            path = "M {a},{b} L {c},{d} L {a},{e} L {f},{d} Z".format(
                a=px(mx), b=py(cyk - r), c=px(mx + r), d=py(cyk), e=py(cyk + r), f=px(mx - r))
            shapes.append(dict(type="path", xref="paper", yref="paper", path=path,
                               line=dict(color=col, width=1), fillcolor="rgba(0,0,0,0)", layer="above"))
        else:
            shapes.append(dict(type="line", xref="paper", yref="paper",
                               x0=px(lx0 + 3), x1=px(lx0 + 18), y0=py(cyk), y1=py(cyk),
                               line=dict(color="black", width=1, dash="solid" if k == 2 else "3px,2px"),
                               layer="above"))
        annotations.append(dict(text=lab, x=px(lx0 + 18), y=py(cyk), xref="paper", yref="paper",
                                xanchor="left", yanchor="middle", showarrow=False,
                                font=dict(family=SANS, size=10, color="#222")))

fig.update_layout(
    width=W, height=H, margin=dict(l=0, r=0, t=0, b=0),
    paper_bgcolor="white", plot_bgcolor="white", showlegend=False,
    shapes=shapes, annotations=annotations, **layout)

fig.write_html("out.html")
